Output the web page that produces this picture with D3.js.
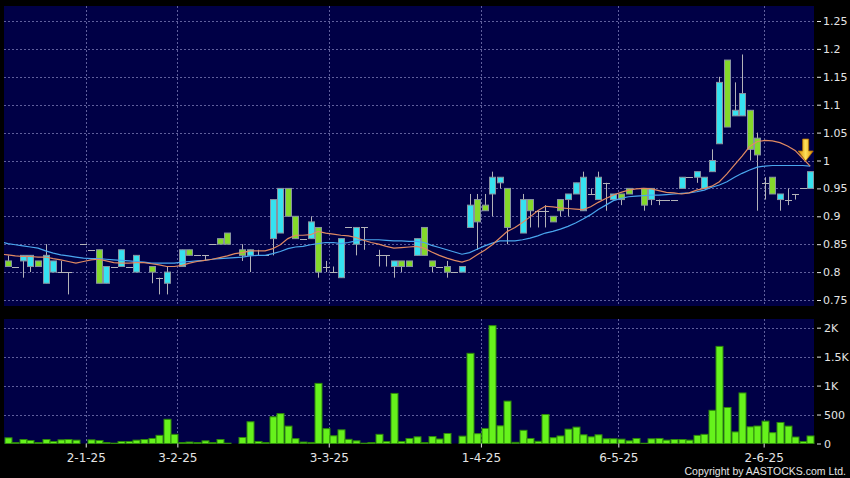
<!DOCTYPE html>
<html><head><meta charset="utf-8">
<script src="https://cdn.jsdelivr.net/npm/d3@7"></script>
<style>html,body{margin:0;padding:0;background:#000;}svg{display:block}</style>
</head><body>
<svg id="chart" width="850" height="478"></svg>
<script>
// ---------- DATA ----------
const _ = null;
const open  = [.82,.81,.82,.81,.82,.78,.80,.80,.80,_,.85,.84,.84,.78,.81,.81,.81,.80,_,.81,.79,.78,_,.81,.84,.83,.83,.85,.86,.87,_,.84,.83,.83,.83,.86,.87,.95,.90,.86,.86,.88,.81,.80,.79,.88,.85,.88,_,.83,.83,.81,.82,.82,.83,.88,.82,.81,.81,.80,.80,.88,.93,.92,.94,.96,.95,_,.87,.93,.91,.91,.90,.93,.93,.94,.91,.94,.93,.96,.93,.94,.95,_,.95,.93,.93,.93,.93,.95,.97,.97,.95,.98,1.03,1.18,1.08,1.08,1.09,1.04,.96,.97,.93,.93,.94,.95,.95];
const high  = [.83,.81,.83,.83,.82,.85,.82,.82,.80,_,.85,.84,.84,.81,.81,.84,.81,.83,_,.81,.79,.81,_,.84,.84,.83,.83,.85,.86,.87,_,.85,.84,.84,.83,.93,.95,.95,.90,.86,.90,.88,.82,.81,.86,.88,.88,.88,_,.84,.83,.82,.82,.82,.86,.88,.82,.81,.82,.80,.81,.94,.94,.94,.98,.97,.95,_,.94,.93,.91,.92,.90,.93,.94,.96,.98,.95,.98,.96,.94,.94,.95,_,.95,.95,.93,.93,.93,.97,.97,.98,.97,1.02,1.15,1.18,1.14,1.19,1.09,1.05,.97,.97,.94,.95,.94,.95,.98];
const low   = [.81,.81,.79,.80,.81,.78,.80,.80,.76,_,.85,.84,.78,.78,.81,.81,.81,.80,_,.78,.76,.76,_,.81,.83,.83,.82,.85,.85,.85,_,.82,.80,.83,.83,.83,.87,.90,.86,.86,.86,.79,.80,.80,.79,.88,.83,.84,_,.81,.81,.79,.80,.81,.83,.83,.80,.81,.79,.80,.80,.88,.84,.91,.90,.95,.85,_,.87,.88,.88,.88,.89,.90,.90,.94,.91,.94,.93,.91,.93,.92,.94,_,.91,.92,.92,.93,.93,.95,.97,.96,.95,.98,1.03,1.06,1.08,1.08,1.00,.91,.93,.94,.91,.92,.93,.95,.95];
const close = [.81,.81,.83,.83,.81,.83,.82,.80,.80,_,.85,.84,.78,.81,.81,.84,.81,.83,_,.80,.79,.80,_,.84,.83,.83,.83,.85,.85,.85,_,.83,.84,.83,.83,.93,.95,.90,.86,.86,.89,.80,.81,.80,.86,.88,.88,.88,_,.83,.83,.82,.81,.81,.86,.83,.81,.81,.80,.80,.81,.92,.89,.91,.97,.97,.88,_,.93,.91,.91,.91,.89,.91,.94,.96,.97,.94,.97,.96,.94,.93,.94,_,.92,.95,.93,.93,.93,.97,.97,.98,.97,1.00,1.14,1.06,1.09,1.12,1.02,1.01,.96,.94,.94,.93,.94,.95,.98];
const volume = [98,15,69,52,17,69,35,63,69,58,0,63,52,17,6,35,35,58,69,87,141,418,158,17,25,17,46,17,69,6,_,104,375,35,17,461,516,300,84,25,18,1038,256,133,236,72,46,6,17,158,35,865,35,87,115,17,120,78,173,0,127,1557,170,260,2035,305,732,20,228,87,38,501,100,130,248,283,150,115,150,81,81,75,46,87,5,81,87,58,69,69,58,140,158,573,1677,622,200,873,288,302,386,187,363,300,112,35,130];
// moving averages, first value belongs to the slot before the first candle
const maStart = -1;
const ma10 = [.832,.831,.829,.828,.828,.827,.827,.824,.822,.819,.816,.819,.822,.823,.820,.817,.816,.816,.817,.817,.815,.813,.810,.810,.812,.816,.819,.821,.823,.826,.829,.833,.835,.838,.838,.838,.842,.849,.860,.866,.866,.867,.873,.870,.868,.866,.865,.862,.857,.853,.850,.846,.843,.844,.845,.846,.843,.836,.830,.825,.821,.818,.822,.831,.839,.849,.861,.873,.880,.889,.899,.910,.918,.917,.915,.914,.913,.912,.917,.925,.932,.938,.943,.947,.949,.950,.949,.946,.943,.942,.940,.942,.947,.950,.954,.962,.976,.992,1.008,1.025,1.034,1.036,1.035,1.032,1.026,1.018,1.004,.990];
const ma20 = [.855,.851,.849,.847,.845,.843,.838,.834,.831,.829,.827,.825,.824,.824,.823,.822,.821,.820,.819,.818,.816,.816,.816,.816,.818,.819,.820,.821,.823,.824,.825,.826,.827,.829,.830,.830,.833,.837,.842,.845,.846,.849,.851,.853,.853,.851,.853,.856,.858,.858,.858,.857,.856,.856,.855,.855,.853,.848,.844,.840,.836,.832,.835,.841,.847,.852,.856,.856,.856,.858,.861,.865,.870,.873,.877,.882,.888,.895,.903,.912,.920,.928,.932,.935,.936,.937,.938,.938,.939,.940,.941,.942,.944,.947,.952,.956,.962,.970,.977,.983,.988,.990,.991,.991,.991,.991,.991,.990];
const dateTickIdx = [10.3, 22.4, 42.4, 62.5, 80.65, 99.85];
const dateTickLabels = ["2-1-25","3-2-25","3-3-25","1-4-25","6-5-25","2-6-25"];
const priceTicks = [0.75,0.8,0.85,0.9,0.95,1.0,1.05,1.1,1.15,1.2,1.25];
const priceTickLabels = ["0.75","0.8","0.85","0.9","0.95","1","1.05","1.1","1.15","1.2","1.25"];
const volTicks = [0,500,1000,1500,2000];
const volTickLabels = ["0","500","1K","1.5K","2K"];
const signal = {idx: 105.4, price: 0.999};

// ---------- LAYOUT ----------
const W = 850, H = 478;
const L = 4, R = 814;
const mainTop = 6, mainBot = 306, volTop = 319, volBot = 443.5;
const C = {bg:"#000", panel:"#000046", grid:"#5f5f9c", up:"#36e2f0", down:"#84d82a",
  bodyStroke:"#8894a0", wick:"#b3b3b8", vol:"#66f21c", volStroke:"#2e8a0c",
  ma10:"#e08a62", ma20:"#4aa6ee", text:"#e4e4e4"};

const svg = d3.select("#chart");
svg.append("rect").attr("width",W).attr("height",H).attr("fill",C.bg);

const x = d3.scaleLinear().domain([-0.5, open.length - 0.5]).range([L, R]);
const yP = d3.scaleLinear().domain([0.75 - 6/558, 1.25 + 15/558]).range([mainBot, mainTop]);
const yV = d3.scaleLinear().domain([0, 2150]).range([volBot, volTop]);

const defs = svg.append("defs");
defs.append("clipPath").attr("id","clipMain").append("rect")
  .attr("x",L).attr("y",mainTop).attr("width",R-L).attr("height",mainBot-mainTop);
const grad = defs.append("linearGradient").attr("id","arrowGrad").attr("x1","0").attr("x2","1").attr("y1","0").attr("y2","0");
grad.append("stop").attr("offset","0").attr("stop-color","#d98a00");
grad.append("stop").attr("offset","0.5").attr("stop-color","#ffe15a");
grad.append("stop").attr("offset","1").attr("stop-color","#d98a00");

// panels
svg.append("rect").attr("x",L).attr("y",mainTop).attr("width",R-L).attr("height",mainBot-mainTop).attr("fill",C.panel);
svg.append("rect").attr("x",L).attr("y",volTop).attr("width",R-L).attr("height",volBot-volTop).attr("fill",C.panel);

// grids
const g = svg.append("g").attr("stroke",C.grid).attr("stroke-width",1).attr("stroke-dasharray","2,2").attr("fill","none");
g.selectAll("line.hp").data(priceTicks).join("line")
  .attr("x1",L).attr("x2",R).attr("y1",d=>Math.round(yP(d))+0.5).attr("y2",d=>Math.round(yP(d))+0.5);
g.selectAll("line.hv").data(volTicks.filter(d=>d>0)).join("line").attr("class","hv")
  .attr("x1",L).attr("x2",R).attr("y1",d=>Math.round(yV(d))+0.5).attr("y2",d=>Math.round(yV(d))+0.5);
g.selectAll("line.v1").data(dateTickIdx).join("line").attr("class","v1")
  .attr("x1",d=>Math.round(x(d))+0.5).attr("x2",d=>Math.round(x(d))+0.5).attr("y1",mainTop).attr("y2",mainBot);
g.selectAll("line.v2").data(dateTickIdx).join("line").attr("class","v2")
  .attr("x1",d=>Math.round(x(d))+0.5).attr("x2",d=>Math.round(x(d))+0.5).attr("y1",volTop).attr("y2",volBot);

// candles
const idx = d3.range(open.length).filter(i => open[i] !== null);
const cg = svg.append("g").attr("clip-path","url(#clipMain)");
const px = i => Math.round(x(i)) + 0.5;
cg.selectAll("line.wick").data(idx.filter(i=>high[i]!==low[i])).join("line").attr("class","wick")
  .attr("x1",px).attr("x2",px).attr("y1",i=>yP(high[i])).attr("y2",i=>yP(low[i]))
  .attr("stroke",C.wick).attr("stroke-width",1);
cg.selectAll("line.doji").data(idx.filter(i=>open[i]===close[i])).join("line").attr("class","doji")
  .attr("x1",i=>px(i)-3.5).attr("x2",i=>px(i)+3.5)
  .attr("y1",i=>Math.round(yP(open[i]))+0.5).attr("y2",i=>Math.round(yP(open[i]))+0.5)
  .attr("stroke",C.wick).attr("stroke-width",1);
cg.selectAll("rect.body").data(idx.filter(i=>open[i]!==close[i])).join("rect").attr("class","body")
  .attr("x",i=>px(i)-3).attr("width",6)
  .attr("y",i=>yP(Math.max(open[i],close[i])))
  .attr("height",i=>Math.abs(yP(open[i])-yP(close[i])))
  .attr("fill",i=>close[i]>open[i]?C.up:C.down)
  .attr("stroke",C.bodyStroke).attr("stroke-width",1);

// moving averages
const maLine = d3.line().x((d,k)=>x(k+maStart)).y(d=>yP(d)).curve(d3.curveLinear);
cg.append("path").datum(ma20).attr("d",maLine).attr("fill","none").attr("stroke",C.ma20).attr("stroke-width",1.2);
cg.append("path").datum(ma10).attr("d",maLine).attr("fill","none").attr("stroke",C.ma10).attr("stroke-width",1.2);

// signal arrow
const ax = x(signal.idx), ay = yP(signal.price);
svg.append("path")
  .attr("d",`M${ax-3},${ay-22} L${ax+3},${ay-22} L${ax+3},${ay-10} L${ax+7.5},${ay-10} L${ax},${ay} L${ax-7.5},${ay-10} L${ax-3},${ay-10} Z`)
  .attr("fill","url(#arrowGrad)").attr("stroke","#b87400").attr("stroke-width",0.8);

// volume bars
const vi = d3.range(volume.length).filter(i => volume[i] !== null && volume[i] > 0);
svg.append("g").selectAll("rect").data(vi).join("rect")
  .attr("x",i=>px(i)-3.5).attr("width",7)
  .attr("y",i=>yV(volume[i])).attr("height",i=>volBot-yV(volume[i]))
  .attr("fill",C.vol).attr("stroke",C.volStroke).attr("stroke-width",1);

// axes
function styleAxis(sel, size){
  sel.select(".domain").remove();
  sel.selectAll(".tick line").attr("stroke",C.text);
  sel.selectAll(".tick text").attr("fill",C.text).attr("font-family","DejaVu Sans, Verdana, sans-serif").attr("font-size",size);
}
svg.append("g").attr("transform",`translate(${R+3},0)`)
  .call(d3.axisRight(yP).tickValues(priceTicks).tickFormat((d,i)=>priceTickLabels[i]).tickSize(4).tickPadding(2))
  .call(s=>styleAxis(s,11));
svg.append("g").attr("transform",`translate(${R+3},0)`)
  .call(d3.axisRight(yV).tickValues(volTicks).tickFormat((d,i)=>volTickLabels[i]).tickSize(4).tickPadding(3))
  .call(s=>styleAxis(s,11));
svg.append("g").attr("transform",`translate(0,${volBot})`)
  .call(d3.axisBottom(x).tickValues(dateTickIdx).tickFormat((d,i)=>dateTickLabels[i]).tickSize(4).tickPadding(6))
  .call(s=>styleAxis(s,12));

svg.append("text").attr("x",846).attr("y",475).attr("text-anchor","end")
  .attr("font-family","Liberation Sans, Arial, sans-serif").attr("font-size",10.5)
  .attr("fill",C.text)
  .text("Copyright by AASTOCKS.com Ltd.");
</script>
</body></html>
